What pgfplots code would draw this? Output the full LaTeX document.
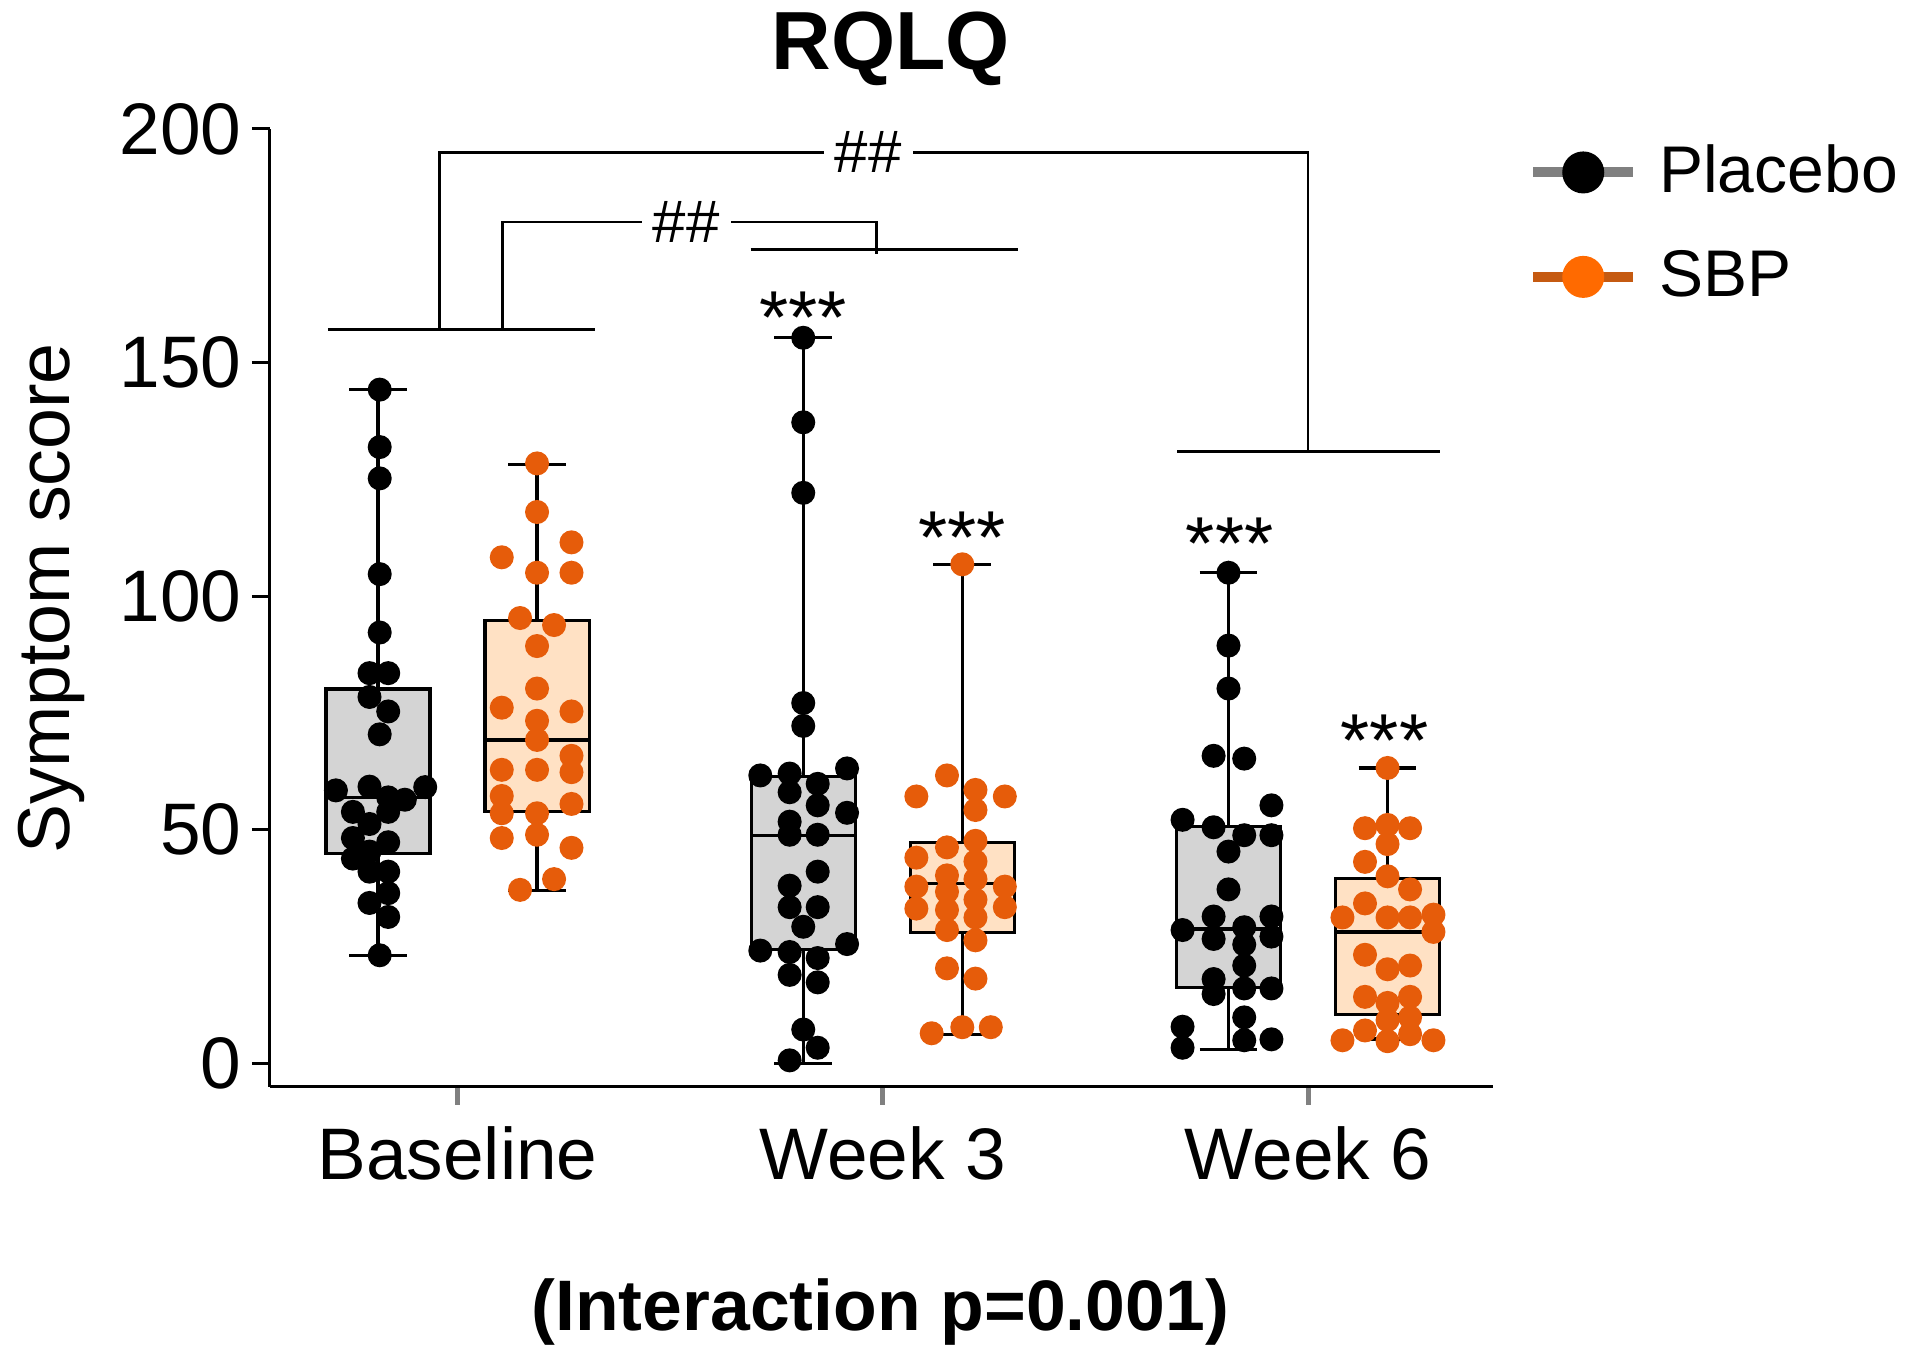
\documentclass[border=0pt]{standalone}
\usepackage{fontspec}
\setmainfont{Liberation Sans}
\usepackage{pgfplots}
\pgfplotsset{compat=1.18}
\usepgfplotslibrary{statistics}
\definecolor{pgrey}{HTML}{D4D4D4}
\definecolor{speach}{HTML}{FFE1C4}
\definecolor{sdot}{HTML}{E65C0A}
\definecolor{legline}{HTML}{C55A11}
\definecolor{legdot}{HTML}{FF6A00}
\definecolor{tickgrey}{HTML}{808080}
\begin{document}
\begin{tikzpicture}
\useasboundingbox (-54pt,-54.6pt) rectangle (328.6pt,217.4pt);
\begin{axis}[
  at={(0,0)}, anchor=south west,
  scale only axis, width=244.6pt, height=191.6pt,
  xmin=-0.441, xmax=2.435, ymin=-5.1, ymax=200,
  axis x line*=bottom, axis y line*=left,
  axis line style={line width=0.6pt, -},
  xtick={0,1,2}, xticklabels={Baseline, Week 3, Week 6},
  ytick={0,50,100,150,200},
  tick align=outside,
  major tick length=3.6pt,
  x tick style={tickgrey, line width=1pt},
  y tick style={black, line width=0.6pt},
  tick label style={font=\fontsize{14.6}{16}\selectfont},
  yticklabel style={xshift=1.4pt},
  xticklabel style={yshift=-0.8pt},
  /pgf/number format/assume math mode=true,
  clip=false,
  boxplot/draw direction=y,
  legend style={at={(rel axis cs:1.028,0.995)}, anchor=north west, draw=none, fill=none, inner sep=0pt, row sep=6pt, font=\fontsize{13.2}{15}\selectfont,
    /tikz/every odd column/.append style={column sep=2.2pt}},
  legend cell align=left,
]
% legend
\addlegendimage{legend image code/.code={\draw[tickgrey, line width=2pt] (0pt,0pt)--(20pt,0pt); \fill[black] (10pt,0pt) circle (4pt);}}
\addlegendentry{Placebo}
\addlegendimage{legend image code/.code={\draw[legline, line width=2pt] (0pt,0pt)--(20pt,0pt); \fill[legdot] (10pt,0pt) circle (4pt);}}
\addlegendentry{SBP}

% boxes
\addplot[forget plot, draw=black, line width=0.65pt, boxplot/every box/.style={fill=pgrey},
  boxplot prepared={draw position=-0.187, lower whisker=23, lower quartile=44.9, median=56.9, upper quartile=80.1, upper whisker=144.2, box extend=0.245, whisker extend=0.136}] coordinates {};
\addplot[forget plot, draw=black, line width=0.65pt, boxplot/every box/.style={fill=speach},
  boxplot prepared={draw position=0.187, lower whisker=37.0, lower quartile=53.8, median=69.2, upper quartile=94.8, upper whisker=128.2, box extend=0.245, whisker extend=0.136}] coordinates {};
\addplot[forget plot, draw=black, line width=0.65pt, boxplot/every box/.style={fill=pgrey},
  boxplot prepared={draw position=0.813, lower whisker=0, lower quartile=24.4, median=48.7, upper quartile=61.3, upper whisker=155.3, box extend=0.245, whisker extend=0.136}] coordinates {};
\addplot[forget plot, draw=black, line width=0.65pt, boxplot/every box/.style={fill=speach},
  boxplot prepared={draw position=1.187, lower whisker=6.1, lower quartile=27.9, median=38.5, upper quartile=47.3, upper whisker=106.8, box extend=0.245, whisker extend=0.136}] coordinates {};
\addplot[forget plot, draw=black, line width=0.65pt, boxplot/every box/.style={fill=pgrey},
  boxplot prepared={draw position=1.813, lower whisker=3.0, lower quartile=16.2, median=28.7, upper quartile=50.7, upper whisker=105.0, box extend=0.245, whisker extend=0.136}] coordinates {};
\addplot[forget plot, draw=black, line width=0.65pt, boxplot/every box/.style={fill=speach},
  boxplot prepared={draw position=2.187, lower whisker=5.2, lower quartile=10.4, median=28.1, upper quartile=39.6, upper whisker=63.2, box extend=0.245, whisker extend=0.136}] coordinates {};

% points placebo
\addplot[forget plot, only marks, mark=*, mark size=2.2pt, mark options={fill=black, draw=black}] coordinates {
(-0.183,144.2) (-0.183,131.9) (-0.183,125.2) (-0.183,104.7) (-0.183,92.2) (-0.183,70.4) (-0.183,23.1)
(-0.207,83.5) (-0.207,78.4) (-0.207,59.2) (-0.207,51.2) (-0.207,45.3) (-0.207,41.0) (-0.207,34.3)
(-0.163,83.5) (-0.163,75.3) (-0.163,56.9) (-0.163,53.8) (-0.163,47.3) (-0.163,41.0) (-0.163,36.4) (-0.163,31.3)
(-0.286,58.4)
(-0.246,53.8) (-0.246,48.2) (-0.246,43.8)
(-0.124,56.4)
(-0.076,59.1)
};
\addplot[forget plot, only marks, mark=*, mark size=2.2pt, mark options={fill=black, draw=black}] coordinates {
(0.813,155.3) (0.813,137.2) (0.813,122.1) (0.813,77.1) (0.813,72.2) (0.813,29.2) (0.813,7.2)
(0.712,61.6) (0.712,24.1)
(0.781,62.0) (0.781,58.0) (0.781,51.7) (0.781,48.9) (0.781,38.0) (0.781,33.4) (0.781,23.8) (0.781,18.9) (0.781,0.6)
(0.847,59.8) (0.847,55.2) (0.847,48.9) (0.847,41.0) (0.847,33.4) (0.847,22.5) (0.847,17.3) (0.847,3.3)
(0.916,63.1) (0.916,53.6) (0.916,25.5)
};
\addplot[forget plot, only marks, mark=*, mark size=2.2pt, mark options={fill=black, draw=black}] coordinates {
(1.813,105.0) (1.813,89.4) (1.813,80.2) (1.813,45.3) (1.813,37.2)
(1.778,65.8) (1.778,50.5) (1.778,31.4) (1.778,26.6) (1.778,18.0) (1.778,14.8)
(1.850,65.2) (1.850,48.8) (1.850,29.1) (1.850,25.4) (1.850,20.9) (1.850,16.0) (1.850,9.8) (1.850,4.9)
(1.914,55.2) (1.914,48.8) (1.914,31.4) (1.914,27.1) (1.914,16.0) (1.914,5.1)
(1.705,52.1) (1.705,28.5) (1.705,7.8) (1.705,3.3)
};
% points SBP
\addplot[forget plot, only marks, mark=*, mark size=2.2pt, mark options={fill=sdot, draw=sdot}] coordinates {
(0.187,128.4) (0.187,118.0) (0.187,105.0) (0.187,89.3) (0.187,80.2) (0.187,73.3) (0.187,69.2) (0.187,62.8) (0.187,53.5) (0.187,48.9)
(0.104,108.3) (0.104,76.1) (0.104,62.8) (0.104,57.2) (0.104,53.5) (0.104,48.2)
(0.268,111.5) (0.268,105.0) (0.268,75.3) (0.268,65.8) (0.268,62.3) (0.268,55.5) (0.268,46.1)
(0.147,95.3) (0.147,37.1)
(0.227,93.8) (0.227,39.4)
};
\addplot[forget plot, only marks, mark=*, mark size=2.2pt, mark options={fill=sdot, draw=sdot}] coordinates {
(1.187,106.8) (1.187,7.7)
(1.079,57.1) (1.079,44.0) (1.079,37.8) (1.079,33.1)
(1.115,6.4)
(1.151,61.6) (1.151,46.2) (1.151,40.2) (1.151,36.7) (1.151,32.8) (1.151,28.5) (1.151,20.3)
(1.218,58.5) (1.218,54.2) (1.218,47.6) (1.218,43.2) (1.218,39.4) (1.218,35.0) (1.218,31.2) (1.218,26.3) (1.218,18.1)
(1.254,7.7)
(1.287,57.1) (1.287,37.8) (1.287,33.4)
};
\addplot[forget plot, only marks, mark=*, mark size=2.2pt, mark options={fill=sdot, draw=sdot}] coordinates {
(2.187,63.2) (2.187,51.0) (2.187,46.9) (2.187,40.0) (2.187,31.2) (2.187,20.1) (2.187,12.9) (2.187,9.2) (2.187,4.7)
(2.134,50.3) (2.134,43.1) (2.134,34.2) (2.134,23.2) (2.134,14.2) (2.134,7.0)
(2.240,50.3) (2.240,37.2) (2.240,31.2) (2.240,20.9) (2.240,14.2) (2.240,9.8) (2.240,6.2)
(2.081,31.2) (2.081,4.9)
(2.295,31.8) (2.295,28.1) (2.295,4.9)
};

% significance brackets
\addplot[forget plot, black, line width=0.6pt, mark=none] coordinates {(-0.305,157.1) (0.323,157.1)};
\addplot[forget plot, black, line width=0.6pt, mark=none] coordinates {(0.689,174.3) (1.317,174.3)};
\addplot[forget plot, black, line width=0.6pt, mark=none] coordinates {(1.692,130.9) (2.311,130.9)};
\addplot[forget plot, black, line width=0.55pt, mark=none] coordinates {(-0.043,157.1) (-0.043,195) (2.0,195) (2.0,130.9)};
\addplot[forget plot, black, line width=0.55pt, mark=none] coordinates {(0.105,157.1) (0.105,180.1) (0.986,180.1) (0.986,173.2)};
\node[fill=white, inner sep=2.2pt, font=\fontsize{12}{14}\selectfont] at (axis cs:0.966,195) {\#\#};
\node[fill=white, inner sep=2.2pt, font=\fontsize{12}{14}\selectfont] at (axis cs:0.538,180.1) {\#\#};

% stars
\node[anchor=base, inner sep=0pt, font=\fontsize{15}{17}\selectfont] at (axis cs:0.813,154.0) {***};
\node[anchor=base, inner sep=0pt, font=\fontsize{15}{17}\selectfont] at (axis cs:1.187,107.0) {***};
\node[anchor=base, inner sep=0pt, font=\fontsize{15}{17}\selectfont] at (axis cs:1.816,105.6) {***};
\node[anchor=base, inner sep=0pt, font=\fontsize{15}{17}\selectfont] at (axis cs:2.18,63.6) {***};

% titles and labels
\node[font=\bfseries\fontsize{16.5}{19}\selectfont] at (rel axis cs:0.5075,1.0835) {RQLQ};
\node[rotate=90, font=\fontsize{14.7}{17}\selectfont] at (rel axis cs:-0.179,0.51) {Symptom score};
\node[font=\bfseries\fontsize{14.3}{17}\selectfont] at (rel axis cs:0.499,-0.235) {(Interaction p=0.001)};
\end{axis}
\end{tikzpicture}
\end{document}
